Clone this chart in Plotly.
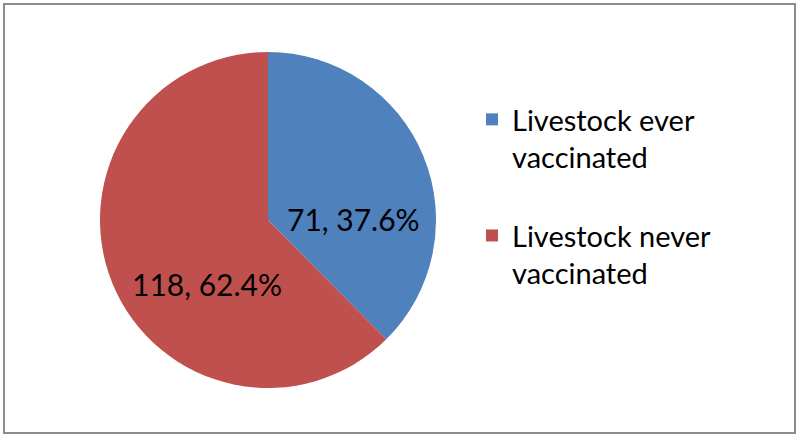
import plotly.graph_objects as go

# Slice data
categories = ["Livestock ever vaccinated", "Livestock never vaccinated"]
counts = [71, 118]
colors = ["#4F81BD", "#C0504D"]

total = sum(counts)
pct = [c / total * 100 for c in counts]
slice_text = [f"{c}, {p:.1f}%" for c, p in zip(counts, pct)]

# legend text wrapped onto two lines, plus a blank line for spacing
legend_labels = [
    "Livestock ever<br>vaccinated<br> ",
    "Livestock never<br>vaccinated<br> ",
]

W, H = 800, 438
FONT = 'Lato, Open Sans, sans-serif'

fig = go.Figure()

fig.add_trace(go.Pie(
    labels=legend_labels,
    values=counts,
    customdata=categories,
    marker=dict(colors=colors, line=dict(width=0)),
    sort=False,
    direction='clockwise',
    rotation=0,
    textinfo='none',
    hovertemplate='%{customdata}: %{value} (%{percent})<extra></extra>',
    domain=dict(x=[100 / W, 436 / W], y=[1 - 388 / H, 1 - 52 / H]),
    showlegend=True
))

# Data labels placed like the original (Excel best-fit style)
label_pos = [(353, 219), (207, 284)]
for txt, (px_, py_) in zip(slice_text, label_pos):
    fig.add_annotation(
        x=px_ / W, y=1 - py_ / H, xref='paper', yref='paper',
        xanchor='center', yanchor='middle',
        text=txt, showarrow=False,
        font=dict(family=FONT, size=30, color='black')
    )

# Chart border
fig.add_shape(
    type='rect', xref='paper', yref='paper',
    x0=4 / W, x1=795 / W, y0=1 - 433 / H, y1=1 - 4 / H,
    line=dict(color='#8c8c8c', width=2), fillcolor='rgba(0,0,0,0)'
)

fig.update_layout(
    width=W, height=H,
    margin=dict(l=0, r=0, t=0, b=0),
    paper_bgcolor='white',
    plot_bgcolor='white',
    font=dict(family=FONT, size=29, color='black'),
    legend=dict(
        x=472 / W, y=1 - 94 / H, xanchor='left', yanchor='top',
        bgcolor='rgba(0,0,0,0)',
        valign='top',
        font=dict(size=29)
    )
)

fig.write_html("out.html", config={'displayModeBar': False},
               post_script="document.body.style.margin='0px';")
